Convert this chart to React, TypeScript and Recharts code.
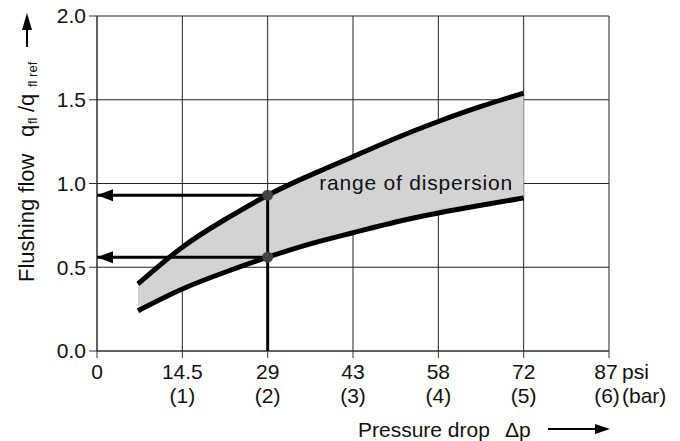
import React from 'react';
import { ComposedChart, Area, Line, Scatter, XAxis, YAxis, CartesianGrid } from 'recharts';

// ---- data (pressure in bar, flow as q_fl / q_fl ref) ----
const pressureBar = [0.48, 1, 1.5, 2, 2.5, 3, 3.5, 4, 4.5, 5];
const upperFlow = [0.4, 0.62, 0.785, 0.93, 1.05, 1.16, 1.27, 1.37, 1.46, 1.54];
const lowerFlow = [0.24, 0.37, 0.47, 0.56, 0.64, 0.706, 0.77, 0.824, 0.87, 0.914];

const xTicks = [0, 1, 2, 3, 4, 5, 6];
const psiLabels = ['0', '14.5', '29', '43', '58', '72', '87'];
const barLabels = ['', '(1)', '(2)', '(3)', '(4)', '(5)', '(6)'];
const yTicks = [0, 0.5, 1, 1.5, 2];

const markerPressure = 2;
const markerFlows = [0.93, 0.56];
const rangeLabel = 'range of dispersion';
const rangeLabelPoint = [{ x: 3.74, y: 1.0 }];

const FONT = '"Liberation Sans", Arial, Helvetica, sans-serif';
const FILL = '#d3d3d3';
const INK = '#111';

const curveData = pressureBar.map((x, i) => ({ x, low: lowerFlow[i], high: upperFlow[i] }));
const arrowLines = markerFlows.map((f) => [
  { x: markerPressure, y: f },
  { x: 0, y: f },
]);
const verticalLine = [
  { x: markerPressure, y: 0 },
  { x: markerPressure, y: markerFlows[0] },
];
const arrowHeads = markerFlows.map((f) => ({ x: 0, y: f }));
const markerDots = markerFlows.map((f) => ({ x: markerPressure, y: f }));

const XTick = (props: any) => {
  const { x, y, payload } = props;
  const i = xTicks.indexOf(payload.value);
  const last = i === xTicks.length - 1;
  return (
    <g fontFamily={FONT} fontSize={21} fill={INK}>
      <text x={last ? x - 3 : x} y={y + 19} textAnchor="middle">{psiLabels[i]}</text>
      {barLabels[i] && (
        <text x={last ? x - 2 : x} y={y + 43} textAnchor="middle">{barLabels[i]}</text>
      )}
      {last && (
        <>
          <text x={x + 13} y={y + 19}>psi</text>
          <text x={x + 13} y={y + 43}>(bar)</text>
        </>
      )}
    </g>
  );
};

const ArrowHead = (props: any) => {
  const { cx, cy } = props;
  return <path d={`M${cx},${cy} L${cx + 16},${cy - 6} L${cx + 16},${cy + 6} Z`} fill="#000" />;
};

const MarkerDot = (props: any) => {
  const { cx, cy } = props;
  return <circle cx={cx} cy={cy} r={5.5} fill="#444" />;
};

const RangeLabel = (props: any) => {
  const { cx, cy } = props;
  return (
    <g>
      <rect x={cx - 98} y={cy - 11} width={204} height={22} fill={FILL} />
      <text
        x={cx}
        y={cy + 6.5}
        textAnchor="middle"
        fontFamily={FONT}
        fontSize={21}
        letterSpacing={0.8}
        fill={INK}
      >
        {rangeLabel}
      </text>
    </g>
  );
};

export default function App() {
  return (
    <div style={{ position: 'absolute', left: 0, top: 0, width: 680, height: 441, background: '#fff' }}>
      <ComposedChart
        width={680}
        height={441}
        data={curveData}
        margin={{ top: 16, right: 71, left: 37, bottom: 30 }}
      >
        <CartesianGrid stroke="#222" strokeWidth={1} />
        <XAxis
          type="number"
          dataKey="x"
          domain={[0, 6]}
          ticks={xTicks}
          interval={0}
          height={60}
          tickSize={7}
          tickMargin={2}
          axisLine={{ stroke: '#333' }}
          tickLine={{ stroke: '#333' }}
          tick={<XTick />}
          allowDataOverflow
        />
        <YAxis
          type="number"
          dataKey="y"
          domain={[0, 2]}
          ticks={yTicks}
          interval={0}
          width={60}
          tickSize={8}
          tickMargin={3}
          axisLine={{ stroke: '#333' }}
          tickLine={{ stroke: '#333' }}
          tickFormatter={(v: number) => v.toFixed(1)}
          tick={{ fontSize: 21, fill: INK, fontFamily: FONT }}
          allowDataOverflow
        />
        <Area
          type="natural"
          dataKey={(d: any) => [d.low, d.high]}
          fill={FILL}
          fillOpacity={1}
          stroke="none"
          isAnimationActive={false}
          activeDot={false}
        />
        <Scatter
          data={rangeLabelPoint}
          dataKey="y"
          shape={<RangeLabel />}
          isAnimationActive={false}
          zIndex={150}
        />
        <Line type="natural" dataKey="high" stroke="#000" strokeWidth={5} dot={false} activeDot={false} isAnimationActive={false} />
        <Line type="natural" dataKey="low" stroke="#000" strokeWidth={5} dot={false} activeDot={false} isAnimationActive={false} />
        {arrowLines.map((seg, i) => (
          <Line
            key={`arrow-${i}`}
            data={seg}
            dataKey="y"
            type="linear"
            stroke="#000"
            strokeWidth={3}
            dot={false}
            activeDot={false}
            isAnimationActive={false}
          />
        ))}
        <Line
          data={verticalLine}
          dataKey="y"
          type="linear"
          stroke="#000"
          strokeWidth={3}
          dot={false}
          activeDot={false}
          isAnimationActive={false}
        />
        <Scatter data={arrowHeads} dataKey="y" shape={<ArrowHead />} isAnimationActive={false} />
        <Scatter data={markerDots} dataKey="y" shape={<MarkerDot />} isAnimationActive={false} />

        {/* Y axis title */}
        <g fontFamily={FONT} fill={INK}>
          <text transform="rotate(-90)" x={-282} y={34} fontSize={22}>Flushing flow</text>
          <text transform="rotate(-90)" x={-137} y={34} fontSize={22}>q</text>
          <text transform="rotate(-90)" x={-124} y={37} fontSize={13}>fl</text>
          <text transform="rotate(-90)" x={-112} y={34} fontSize={22}>/q</text>
          <text transform="rotate(-90)" x={-87} y={37} fontSize={13}>fl ref</text>
          <line x1={27} y1={47} x2={27} y2={28} stroke="#000" strokeWidth={2} />
          <path d="M27,13 L22,30 L32,30 Z" fill="#000" />
        </g>
        {/* X axis title */}
        <g fontFamily={FONT} fill={INK}>
          <text x={358} y={437} fontSize={21}>Pressure drop</text>
          <text x={505} y={437} fontSize={21}>Δp</text>
          <line x1={548} y1={429} x2={597} y2={429} stroke="#000" strokeWidth={2} />
          <path d="M610,429 L595,424 L595,434 Z" fill="#000" />
        </g>
      </ComposedChart>
    </div>
  );
}
